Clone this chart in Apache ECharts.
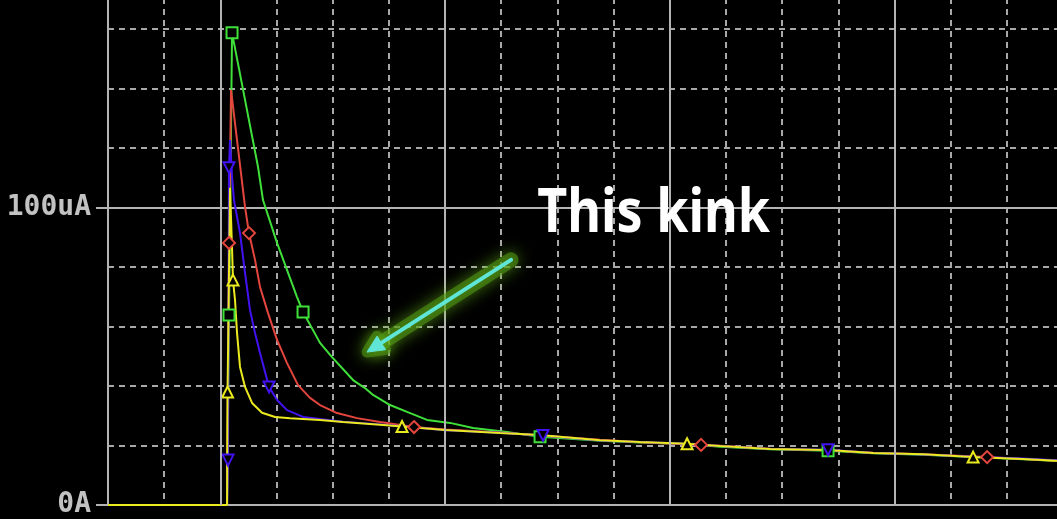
<!DOCTYPE html>
<html>
<head>
<meta charset="utf-8">
<script src="https://cdn.jsdelivr.net/npm/echarts@6/dist/echarts.min.js"></script>
<style>
  html, body { margin: 0; padding: 0; background: #000; }
  #chart { width: 1057px; height: 519px; }
</style>
</head>
<body>
<div id="chart"></div>
<script>
// Time in ms (one minor grid division = 1 ms), current in uA.
const greenT = [0, 2.119, 2.154, 2.208, 2.671, 2.759, 3.009, 3.365, 3.472, 3.774, 3.988, 4.362, 4.575, 4.718, 5.021, 5.323, 5.679, 6.089, 6.498, 7.103, 7.691, 8.759, 9.471, 10.308, 10.896, 11.786, 12.818, 13.619, 14.509, 15.4, 16.29, 17.0];
const greenI = [0, 0, 63.9, 158.7, 113.6, 102.5, 88.1, 69.9, 64.9, 54.5, 49.7, 42.0, 39.3, 37.0, 33.6, 31.3, 28.6, 27.6, 25.9, 24.5, 22.9, 21.6, 21.0, 20.5, 19.6, 18.7, 18.2, 17.4, 16.9, 16.1, 15.4, 14.7];
const greenMarks = [2, 3, 8, 20, 26];

const redT = [0, 2.119, 2.154, 2.19, 2.439, 2.510, 2.617, 2.706, 2.849, 3.009, 3.187, 3.383, 3.596, 3.774, 4.077, 4.433, 4.842, 5.448, 6.0, 6.979, 7.691, 8.759, 9.471, 10.557, 10.896, 11.786, 12.818, 13.619, 14.509, 15.649, 16.29, 17.0];
const redI = [0, 0, 88.1, 139.5, 100.2, 91.4, 82.4, 73.3, 64.5, 55.5, 47.7, 40.3, 36.0, 33.6, 30.9, 29.2, 27.9, 26.2, 25.4, 24.4, 23.4, 21.9, 21.1, 20.2, 19.9, 18.9, 18.4, 17.6, 17.1, 16.1, 15.5, 14.8];
const redMarks = [2, 5, 17, 23, 29];

const blueT = [0, 2.119, 2.136, 2.154, 2.172, 2.208, 2.243, 2.350, 2.439, 2.528, 2.617, 2.706, 2.866, 3.009, 3.187, 3.472, 3.774, 4.184, 4.842, 5.448, 6.0, 6.979, 7.744, 8.759, 9.471, 10.3, 10.896, 11.786, 12.818, 13.619, 14.509, 15.4, 16.29, 17.0];
const blueI = [0, 0, 15.1, 113.4, 122.7, 110.3, 102.5, 91.4, 78.0, 65.5, 57.8, 51.1, 39.7, 35.3, 31.9, 29.6, 28.9, 28.0, 27.1, 26.1, 25.1, 24.3, 23.4, 21.7, 21.2, 20.6, 19.8, 18.8, 18.6, 17.5, 17.0, 16.2, 15.6, 14.9];
const blueMarks = [2, 3, 12, 22, 28];

const yellowT = [0, 2.119, 2.128, 2.172, 2.208, 2.225, 2.261, 2.297, 2.350, 2.439, 2.564, 2.742, 2.973, 3.240, 3.774, 4.184, 4.842, 5.234, 6.0, 6.979, 7.691, 8.759, 9.471, 10.308, 10.896, 11.786, 12.818, 13.619, 14.509, 15.4, 16.29, 17.0];
const yellowI = [0, 0, 38.0, 106.6, 86.2, 75.6, 68.9, 57.8, 46.4, 39.7, 34.3, 31.0, 29.6, 29.2, 28.6, 27.9, 27.0, 26.4, 25.2, 24.2, 23.5, 21.8, 21.2, 20.6, 19.8, 18.8, 18.5, 17.5, 17.1, 16.1, 15.5, 14.8];
const yellowMarks = [2, 5, 17, 23, 29];

const yTickLabels = { 0: '0A', 100: '100uA', 200: '200uA' };
const majorTimes = [2, 6, 10, 14];

// Callout: arrow from tail to head, text anchored at its left/middle (data coords)
const calloutText = 'This kink';
const arrowTail = [7.175, 82.4];
const arrowHead = [4.611, 51.4];
const textAnchor = [7.64, 97.8];

const GRID_SOLID = '#b4b4b4';
const GRID_DASH = '#a8a8a8';

function traceData(ts, is, marks, symbol, rotate) {
  return ts.map((t, k) => {
    const item = { value: [t, is[k]] };
    if (marks.indexOf(k) >= 0) {
      item.symbol = symbol;
      item.symbolRotate = rotate;
    }
    return item;
  });
}

function trace(name, color, ts, is, marks, symbol, rotate, size) {
  return {
    name: name,
    type: 'line',
    data: traceData(ts, is, marks, symbol, rotate),
    symbol: 'none',
    showSymbol: true,
    symbolSize: size,
    lineStyle: { color: color, width: 2 },
    itemStyle: { color: '#000', borderColor: color, borderWidth: 2 },
    emphasis: { disabled: true },
    z: 3
  };
}

const chart = echarts.init(document.getElementById('chart'), null, { renderer: 'canvas' });

chart.setOption({
  backgroundColor: '#000',
  animation: false,
  grid: { left: 108, right: -6, top: -90, bottom: 14, containLabel: false, outerBoundsMode: 'none' },
  xAxis: {
    type: 'value', min: 0, max: 17, interval: 1,
    axisLine: { show: true, onZero: false, lineStyle: { color: GRID_SOLID, width: 2 } },
    axisTick: { show: false },
    axisLabel: { show: false },
    splitLine: { show: true, lineStyle: { color: GRID_DASH, width: 2, type: [6, 5] } }
  },
  yAxis: [
    {
      type: 'value', min: 0, max: 200, interval: 100,
      axisLine: { show: true, lineStyle: { color: GRID_SOLID, width: 2 } },
      axisTick: { show: true, length: 12, lineStyle: { color: GRID_SOLID, width: 2 } },
      axisLabel: {
        margin: 17,
        color: '#c2c2c2',
        fontFamily: 'DejaVu Sans Mono',
        fontWeight: 'bold',
        fontSize: 28,
        formatter: v => yTickLabels[v] || ''
      },
      splitLine: { show: true, lineStyle: { color: GRID_SOLID, width: 2 } },
      z: 1
    },
    {
      type: 'value', min: 0, max: 200, interval: 20,
      axisLine: { show: false },
      axisTick: { show: false },
      axisLabel: { show: false },
      splitLine: { show: true, lineStyle: { color: GRID_DASH, width: 2, type: [6, 5] } },
      z: 0
    }
  ],
  series: [
    {
      name: 'major',
      type: 'line',
      data: [],
      z: 1,
      markLine: {
        silent: true,
        symbol: 'none',
        label: { show: false },
        lineStyle: { color: GRID_SOLID, width: 2, type: 'solid' },
        data: majorTimes.map(t => ({ xAxis: t }))
      }
    },
    trace('I(green)', '#3fe03a', greenT, greenI, greenMarks, 'rect', 0, 11),
    trace('I(red)', '#e4463e', redT, redI, redMarks, 'diamond', 0, 12),
    trace('I(blue)', '#4312f0', blueT, blueI, blueMarks, 'triangle', 180, 11),
    trace('I(yellow)', '#eaea1e', yellowT, yellowI, yellowMarks, 'triangle', 0, 11)
  ]
});

// Callout arrow and caption, positioned from data coordinates
const tail = chart.convertToPixel({ seriesIndex: 1 }, arrowTail);
const head = chart.convertToPixel({ seriesIndex: 1 }, arrowHead);
const anchor = chart.convertToPixel({ seriesIndex: 1 }, textAnchor);
const dx = head[0] - tail[0], dy = head[1] - tail[1];
const len = Math.sqrt(dx * dx + dy * dy);
const ux = dx / len, uy = dy / len;
const headLen = 17, headHalf = 8;
const base = [head[0] - ux * headLen, head[1] - uy * headLen];
const left = [base[0] - uy * headHalf, base[1] + ux * headHalf];
const right = [base[0] + uy * headHalf, base[1] - ux * headHalf];
const glow = 'rgba(120,210,30,0.9)';

chart.setOption({
  graphic: [
    {
      type: 'line', silent: true, z: 10,
      shape: { x1: tail[0], y1: tail[1], x2: base[0], y2: base[1] },
      style: { stroke: 'rgba(80,150,20,0.6)', lineWidth: 15, lineCap: 'round', shadowBlur: 16, shadowColor: glow }
    },
    {
      type: 'polygon', silent: true, z: 10,
      shape: { points: [head, left, right] },
      style: { fill: 'rgba(80,150,20,0.6)', stroke: 'rgba(80,150,20,0.6)', lineWidth: 11, lineJoin: 'round', shadowBlur: 16, shadowColor: glow }
    },
    {
      type: 'line', silent: true, z: 11,
      shape: { x1: tail[0], y1: tail[1], x2: base[0], y2: base[1] },
      style: { stroke: '#5fe6d6', lineWidth: 4, lineCap: 'round' }
    },
    {
      type: 'polygon', silent: true, z: 11,
      shape: { points: [head, left, right] },
      style: { fill: '#5fe6d6', stroke: '#5fe6d6', lineWidth: 1 }
    },
    {
      type: 'text', silent: true, z: 12,
      x: anchor[0], y: anchor[1], scaleY: 1.18,
      style: {
        text: calloutText,
        fill: '#ffffff',
        fontFamily: 'Noto Sans',
        fontWeight: 'bold',
        fontSize: 52,
        align: 'left',
        verticalAlign: 'middle'
      }
    }
  ]
});
</script>
</body>
</html>
